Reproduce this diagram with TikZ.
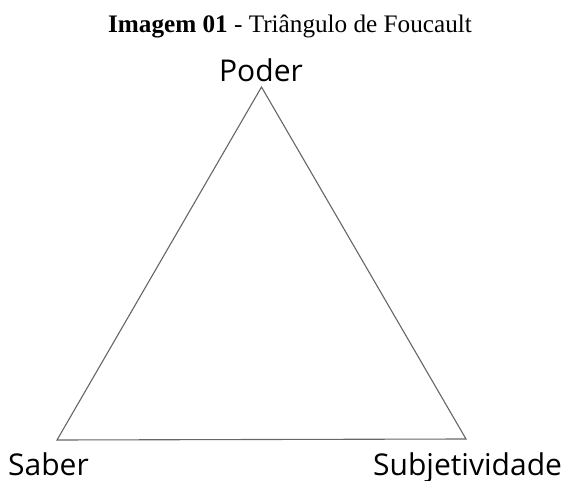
\documentclass[tikz,border=0pt]{standalone}
\usepackage{fontspec}
\setmainfont{Liberation Serif}
\newfontfamily\labelfont{Open Sans}
\begin{document}
\begin{tikzpicture}[x=1pt,y=-1pt,
  vlabel/.style={font=\labelfont\fontsize{30}{36}\selectfont, inner sep=0pt, anchor=base},
  edge/.style={draw=black!60, line width=1.1pt}]
\useasboundingbox (0,0) rectangle (568,481);
\node[inner sep=0pt, anchor=base, font=\fontsize{25.2}{30}\selectfont] (title) at (290,33) {\textbf{Imagem 01} - Triângulo de Foucault};
\coordinate (p) at (261.5,87);
\coordinate (s) at (57,440);
\coordinate (j) at (466,439);
\draw[edge, line join=miter] (p) -- (s) -- (j) -- cycle;
\node[vlabel] (poder) at (261,82) {Poder};
\node[vlabel, anchor=base west] (saber) at (8,475) {Saber};
\node[vlabel, anchor=base west] (subj) at (373,475) {Subjetividade};
\end{tikzpicture}
\end{document}
